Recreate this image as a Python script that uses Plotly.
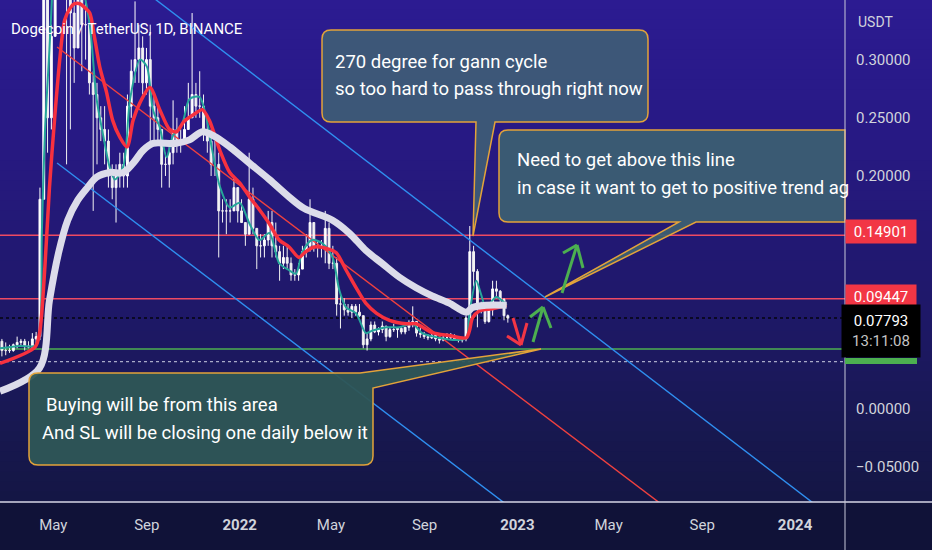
import pandas as pd
import plotly.graph_objects as go

# ---------------- chart data ----------------
# 5-day candles, first one centred on 2021-02-22 12:00
bar_start = '2021-02-22 12:00'
first_open = 0.058
bar_high = [
    0.060, 0.057, 0.055, 0.056, 0.062, 0.060, 0.060, 0.058, 0.065, 0.066,
    0.190, 0.450, 0.370, 0.330, 0.700, 0.740, 0.550, 0.570, 0.400, 0.360,
    0.440, 0.400, 0.350, 0.340, 0.290, 0.280, 0.260, 0.260, 0.240, 0.210,
    0.210, 0.220, 0.220, 0.270, 0.300, 0.350, 0.330, 0.320, 0.310, 0.330,
    0.270, 0.260, 0.240, 0.220, 0.230, 0.265, 0.250, 0.240, 0.260, 0.280,
    0.340, 0.280, 0.290, 0.270, 0.250, 0.240, 0.230, 0.220, 0.180, 0.180,
    0.180, 0.200, 0.190, 0.180, 0.160, 0.220, 0.190, 0.155, 0.150, 0.150,
    0.170, 0.170, 0.160, 0.140, 0.140, 0.140, 0.130, 0.120, 0.125, 0.140,
    0.150, 0.180, 0.160, 0.145, 0.145, 0.170, 0.160, 0.140, 0.130, 0.100,
    0.095, 0.090, 0.090, 0.090, 0.090, 0.080, 0.065, 0.075, 0.075, 0.070,
    0.075, 0.071, 0.070, 0.073, 0.070, 0.071, 0.070, 0.076, 0.088, 0.075,
    0.070, 0.066, 0.064, 0.066, 0.065, 0.061, 0.063, 0.065, 0.065, 0.064,
    0.061, 0.061, 0.080, 0.157, 0.140, 0.120, 0.092, 0.089, 0.088, 0.110,
    0.110, 0.102, 0.095, 0.081,
]
bar_low = [
    0.045, 0.046, 0.048, 0.049, 0.052, 0.054, 0.050, 0.052, 0.052, 0.056,
    0.059, 0.200, 0.220, 0.240, 0.360, 0.410, 0.400, 0.210, 0.240, 0.280,
    0.310, 0.290, 0.300, 0.270, 0.170, 0.210, 0.230, 0.210, 0.190, 0.180,
    0.160, 0.190, 0.190, 0.190, 0.250, 0.280, 0.280, 0.270, 0.270, 0.230,
    0.230, 0.230, 0.190, 0.200, 0.190, 0.210, 0.220, 0.220, 0.230, 0.240,
    0.250, 0.250, 0.250, 0.230, 0.220, 0.200, 0.200, 0.130, 0.160, 0.150,
    0.160, 0.170, 0.160, 0.160, 0.140, 0.150, 0.150, 0.120, 0.130, 0.130,
    0.140, 0.130, 0.130, 0.110, 0.120, 0.120, 0.110, 0.110, 0.110, 0.120,
    0.130, 0.135, 0.135, 0.130, 0.130, 0.125, 0.120, 0.120, 0.080, 0.069,
    0.080, 0.080, 0.078, 0.080, 0.079, 0.052, 0.050, 0.058, 0.065, 0.063,
    0.065, 0.058, 0.061, 0.066, 0.061, 0.064, 0.064, 0.067, 0.070, 0.062,
    0.061, 0.060, 0.059, 0.060, 0.058, 0.056, 0.058, 0.060, 0.060, 0.059,
    0.057, 0.057, 0.058, 0.076, 0.105, 0.070, 0.082, 0.073, 0.074, 0.080,
    0.095, 0.090, 0.076, 0.074,
]
bar_close = [
    0.050, 0.050, 0.050, 0.055, 0.057, 0.058, 0.054, 0.053, 0.060, 0.062,
    0.180, 0.360, 0.250, 0.320, 0.570, 0.450, 0.480, 0.390, 0.340, 0.310,
    0.380, 0.330, 0.330, 0.280, 0.270, 0.250, 0.240, 0.230, 0.200, 0.190,
    0.200, 0.210, 0.200, 0.260, 0.290, 0.300, 0.310, 0.280, 0.300, 0.260,
    0.250, 0.240, 0.210, 0.210, 0.220, 0.240, 0.230, 0.230, 0.240, 0.250,
    0.270, 0.260, 0.260, 0.240, 0.230, 0.210, 0.210, 0.170, 0.170, 0.170,
    0.170, 0.190, 0.170, 0.160, 0.150, 0.180, 0.155, 0.140, 0.140, 0.145,
    0.160, 0.140, 0.135, 0.125, 0.130, 0.125, 0.115, 0.115, 0.120, 0.135,
    0.140, 0.160, 0.140, 0.140, 0.140, 0.155, 0.125, 0.125, 0.090, 0.090,
    0.085, 0.083, 0.088, 0.083, 0.080, 0.055, 0.060, 0.072, 0.066, 0.068,
    0.071, 0.062, 0.068, 0.068, 0.069, 0.066, 0.070, 0.074, 0.075, 0.065,
    0.064, 0.062, 0.061, 0.063, 0.060, 0.059, 0.061, 0.061, 0.062, 0.060,
    0.059, 0.060, 0.078, 0.135, 0.118, 0.088, 0.087, 0.075, 0.085, 0.103,
    0.101, 0.094, 0.080, 0.0779,
]

# fast EMA (teal)
ema_fast_dates = [
    '2021-02-20', '2021-03-18', '2021-04-07', '2021-04-13', '2021-04-16', '2021-04-20',
    '2021-04-26', '2021-05-03', '2021-05-12', '2021-05-25', '2021-06-07', '2021-06-18',
    '2021-06-27', '2021-07-05', '2021-07-14', '2021-07-21', '2021-08-01', '2021-08-10',
    '2021-08-23', '2021-09-01', '2021-09-09', '2021-09-18', '2021-09-27', '2021-10-05',
    '2021-10-18', '2021-10-27', '2021-11-09', '2021-11-18', '2021-11-26', '2021-12-06',
    '2021-12-19', '2022-01-01', '2022-01-14', '2022-01-27', '2022-02-09', '2022-02-22',
    '2022-03-07', '2022-03-16', '2022-03-24', '2022-04-06', '2022-04-20', '2022-05-03',
    '2022-05-12', '2022-05-21', '2022-06-03', '2022-06-16', '2022-06-24', '2022-07-13',
    '2022-07-30', '2022-08-16', '2022-08-29', '2022-09-20', '2022-10-13', '2022-10-26',
    '2022-10-30', '2022-11-08', '2022-11-14', '2022-11-21', '2022-12-04', '2022-12-12',
    '2022-12-18',
]
ema_fast = [
    0.052, 0.054, 0.054, 0.063, 0.151, 0.237,
    0.309, 0.400, 0.500, 0.420, 0.370, 0.330,
    0.266, 0.237, 0.208, 0.197, 0.208, 0.266,
    0.300, 0.294, 0.257, 0.242, 0.216, 0.234,
    0.246, 0.266, 0.268, 0.251, 0.222, 0.191,
    0.173, 0.177, 0.159, 0.145, 0.151, 0.125,
    0.119, 0.116, 0.134, 0.145, 0.142, 0.130,
    0.102, 0.087, 0.082, 0.065, 0.067, 0.070,
    0.070, 0.073, 0.065, 0.061, 0.059, 0.061,
    0.082, 0.110, 0.099, 0.087, 0.096, 0.093,
    0.089,
]

# mid EMA (red)
ema_mid_dates = [
    '2021-02-20', '2021-04-07', '2021-04-13', '2021-04-20', '2021-04-26', '2021-05-03',
    '2021-05-10', '2021-05-16', '2021-05-23', '2021-05-29', '2021-06-05', '2021-06-11',
    '2021-06-18', '2021-06-24', '2021-07-01', '2021-07-10', '2021-07-18', '2021-07-27',
    '2021-08-06', '2021-08-14', '2021-08-23', '2021-09-05', '2021-09-18', '2021-10-01',
    '2021-10-10', '2021-10-20', '2021-11-02', '2021-11-13', '2021-11-22', '2021-12-06',
    '2021-12-19', '2022-01-01', '2022-01-14', '2022-01-27', '2022-02-09', '2022-02-22',
    '2022-03-07', '2022-03-20', '2022-03-27', '2022-04-09', '2022-04-29', '2022-05-08',
    '2022-05-21', '2022-06-03', '2022-06-16', '2022-06-30', '2022-07-17', '2022-08-08',
    '2022-08-21', '2022-09-11', '2022-10-03', '2022-10-26', '2022-10-30', '2022-11-03',
    '2022-11-12', '2022-11-29', '2022-12-18',
]
ema_mid = [
    0.039, 0.053, 0.065, 0.122, 0.190, 0.251,
    0.303, 0.334, 0.344, 0.348, 0.348, 0.345,
    0.340, 0.320, 0.294, 0.272, 0.248, 0.234,
    0.225, 0.248, 0.263, 0.276, 0.257, 0.240,
    0.238, 0.247, 0.253, 0.257, 0.248, 0.222,
    0.203, 0.194, 0.182, 0.171, 0.159, 0.145,
    0.139, 0.130, 0.134, 0.139, 0.137, 0.134,
    0.119, 0.104, 0.0905, 0.082, 0.076, 0.073,
    0.073, 0.0655, 0.063, 0.061, 0.067, 0.078,
    0.084, 0.086, 0.089,
]

# slow EMA (thick light grey)
ema_slow_dates = [
    '2021-02-20', '2021-04-13', '2021-04-26', '2021-05-08', '2021-05-20', '2021-06-02',
    '2021-06-15', '2021-06-27', '2021-07-14', '2021-08-01', '2021-08-14', '2021-08-27',
    '2021-09-09', '2021-10-08', '2021-10-27', '2021-11-13', '2021-11-29', '2021-12-19',
    '2022-01-14', '2022-02-09', '2022-03-07', '2022-03-27', '2022-05-03', '2022-05-25',
    '2022-06-16', '2022-07-07', '2022-07-30', '2022-08-21', '2022-09-11', '2022-10-03',
    '2022-10-26', '2022-11-03', '2022-11-21', '2022-12-18',
]
ema_slow = [
    0.015, 0.035, 0.093, 0.134, 0.162, 0.179,
    0.190, 0.199, 0.203, 0.203, 0.211, 0.222,
    0.228, 0.228, 0.231, 0.238, 0.234, 0.225,
    0.211, 0.197, 0.182, 0.172, 0.162, 0.151,
    0.136, 0.125, 0.113, 0.104, 0.097, 0.091,
    0.083, 0.087, 0.089, 0.089,
]

# horizontal levels
level_resist = 0.14901
level_mid = 0.09447
level_support = 0.0514
level_last = 0.07793
level_low = 0.0405

# drawn trend lines (two anchor points each)
blue_top_dates = ['2021-08-23', '2024-02-14']
blue_top_prices = [0.3619, -0.0911]
blue_low_dates = ['2021-05-06', '2023-01-03']
blue_low_prices = [0.2112, -0.0904]
red_diag_dates = ['2021-05-06', '2023-07-19']
red_diag_prices = [0.3108, -0.0868]

tick_dates = ['2021-05-01', '2021-09-01', '2022-01-01', '2022-05-01', '2022-09-01',
              '2023-01-01', '2023-05-01', '2023-09-01', '2024-01-01']
tick_text = ['May', 'Sep', '<b>2022</b>', 'May', 'Sep', '<b>2023</b>', 'May', 'Sep', '<b>2024</b>']
price_ticks = [0.30, 0.25, 0.20, 0.0, -0.05]
price_tick_text = ['0.30000', '0.25000', '0.20000', '0.00000', '\u22120.05000']

# ---------------- layout helpers ----------------
W, H = 932, 550
PLOT_R = 845   # px where the price scale starts
PLOT_B = 502   # px where the time scale starts
FONT = 'Roboto, sans-serif'
TXT = '#d1d4dc'


def px(x):
    return x / PLOT_R


def py(y):
    return 1 - y / PLOT_B


def pt(x, y):
    return f'{px(x):.5f},{py(y):.5f}'


def build_path(seq):
    out = []
    for item in seq:
        if item[0] == 'Z':
            out.append('Z')
        elif item[0] == 'Q':
            out.append(f'Q{pt(item[1], item[2])} {pt(item[3], item[4])}')
        else:
            out.append(f'{item[0]}{pt(item[1], item[2])}')
    return ' '.join(out)


def mix(c0, c1, t):
    return tuple(round(a + (b - a) * t) for a, b in zip(c0, c1))


bar_dates = pd.date_range(bar_start, periods=len(bar_close), freq='5D')
bar_open = [first_open] + bar_close[:-1]

fig = go.Figure()

# trend lines
for d, p, c in [(blue_top_dates, blue_top_prices, '#2f8ff0'),
                (blue_low_dates, blue_low_prices, '#2f8ff0'),
                (red_diag_dates, red_diag_prices, '#f0413f')]:
    fig.add_trace(go.Scatter(x=d, y=p, mode='lines', line=dict(color=c, width=1.4),
                             hoverinfo='skip', showlegend=False))

fig.add_trace(go.Candlestick(
    x=bar_dates, open=bar_open, high=bar_high, low=bar_low, close=bar_close,
    increasing=dict(line=dict(color='#ffffff', width=1), fillcolor='#ffffff'),
    decreasing=dict(line=dict(color='#f2f2f2', width=1), fillcolor='#f2f2f2'),
    whiskerwidth=0, hoverinfo='skip', showlegend=False))

fig.add_trace(go.Scatter(x=ema_fast_dates, y=ema_fast, mode='lines',
                         line=dict(color='#26a69a', width=2, shape='spline', smoothing=0.8),
                         hoverinfo='skip', showlegend=False))
fig.add_trace(go.Scatter(x=ema_mid_dates, y=ema_mid, mode='lines',
                         line=dict(color='#f7313f', width=3.5, shape='spline', smoothing=0.8),
                         hoverinfo='skip', showlegend=False))
fig.add_trace(go.Scatter(x=ema_slow_dates, y=ema_slow, mode='lines',
                         line=dict(color='#dcdcea', width=7, shape='spline', smoothing=0.9),
                         hoverinfo='skip', showlegend=False))

shapes = []

# background gradient (purple top -> navy bottom)
stops = [(0, (44, 27, 146)), (150, (39, 25, 130)), (300, (31, 24, 106)),
         (420, (24, 24, 82)), (502, (20, 22, 68))]
n_bands = 50
for i in range(n_bands):
    y0 = PLOT_B * i / n_bands
    y1 = PLOT_B * (i + 1) / n_bands
    ym = (y0 + y1) / 2
    for (a, ca), (b, cb) in zip(stops[:-1], stops[1:]):
        if a <= ym <= b:
            col = mix(ca, cb, (ym - a) / (b - a))
            break
    shapes.append(dict(type='rect', xref='paper', yref='paper', x0=0, x1=W / PLOT_R,
                       y0=py(y1) - 0.001, y1=py(y0) + 0.001, line=dict(width=0),
                       fillcolor='rgb(%d,%d,%d)' % col, layer='below'))

# horizontal levels
for lv, col, dash, wd in [(level_resist, '#ee4a62', 'solid', 1.5),
                          (level_mid, '#ee4a62', 'solid', 1.5),
                          (level_support, '#4caf50', 'solid', 1.5),
                          (level_last, '#05050f', 'dot', 1.5),
                          (level_low, '#a9aac8', 'dot', 1.2)]:
    shapes.append(dict(type='line', xref='paper', yref='y', x0=0, x1=1, y0=lv, y1=lv,
                       line=dict(color=col, width=wd, dash=dash), layer='below'))

# call-out boxes
border = dict(color='#e3a33a', width=1.5)
box1 = [('M', 331, 30), ('L', 639, 30), ('Q', 648, 30, 648, 39), ('L', 648, 113),
        ('Q', 648, 122, 639, 122), ('L', 495, 122), ('L', 473, 236), ('L', 476, 122),
        ('L', 331, 122), ('Q', 322, 122, 322, 113), ('L', 322, 39), ('Q', 322, 30, 331, 30), ('Z',)]
box2 = [('M', 508, 130), ('L', 845, 130), ('L', 845, 222), ('L', 696, 222), ('L', 545, 297),
        ('L', 679, 222), ('L', 508, 222), ('Q', 499, 222, 499, 213), ('L', 499, 139),
        ('Q', 499, 130, 508, 130), ('Z',)]
box3 = [('M', 38, 373), ('L', 360, 373), ('L', 541, 349), ('L', 373, 388), ('L', 373, 456),
        ('Q', 373, 465, 364, 465), ('L', 38, 465), ('Q', 29, 465, 29, 456), ('L', 29, 382),
        ('Q', 29, 373, 38, 373), ('Z',)]
for seq, fill in [(box1, 'rgba(62,92,118,0.93)'), (box2, 'rgba(60,96,114,0.93)'),
                  (box3, 'rgba(46,86,86,0.95)')]:
    shapes.append(dict(type='path', xref='paper', yref='paper', path=build_path(seq),
                       fillcolor=fill, line=border, layer='above'))

# hand-drawn arrows
arrows = [
    ('#f23645', [(513, 318, 521, 345), (507, 336, 521, 345), (527, 323, 521, 345)]),
    ('#4caf50', [(533, 342, 543, 307), (530, 317, 543, 307), (551, 328, 543, 307)]),
    ('#4caf50', [(562, 293, 577, 245), (563, 253, 577, 245), (583, 268, 577, 245)]),
]
for col, segs in arrows:
    for x0, y0, x1, y1 in segs:
        shapes.append(dict(type='line', xref='paper', yref='paper', x0=px(x0), y0=py(y0),
                           x1=px(x1), y1=py(y1), line=dict(color=col, width=3), layer='above'))

# time-scale strip, separators and last-price bar
shapes.append(dict(type='rect', xref='paper', yref='paper', x0=0, x1=W / PLOT_R,
                   y0=py(H), y1=0, line=dict(width=0), fillcolor='#101238', layer='below'))
shapes.append(dict(type='line', xref='paper', yref='paper', x0=0, x1=W / PLOT_R, y0=0, y1=0,
                   line=dict(color='#d6d6e6', width=1.5), layer='above'))
shapes.append(dict(type='line', xref='paper', yref='paper', x0=1, x1=1, y0=py(H), y1=1,
                   line=dict(color='#c8c8da', width=1), layer='above'))
shapes.append(dict(type='rect', xref='paper', yref='paper', x0=px(845), x1=px(917),
                   y0=py(364), y1=py(358), line=dict(width=0), fillcolor='#4caf50', layer='above'))

annotations = []


def note(x, y, text, size, color='#ffffff', anchor='left', **kw):
    annotations.append(dict(xref='paper', yref='paper', x=px(x), y=py(y), text=text,
                            showarrow=False, xanchor=anchor, yanchor='middle',
                            font=dict(family=FONT, size=size, color=color), **kw))


note(9, 29, 'Dogecoin / TetherUS, 1D, BINANCE', 15)
note(333, 62, '270 degree for gann cycle', 18.5)
note(333, 89, 'so too hard to pass through right now', 18.5)
note(515, 160, 'Need to get above this line', 18.5)
note(515, 188, 'in case it want to get to positive trend ag', 18.5)
note(44, 405, 'Buying will be from this area', 18.5)
note(40, 433, 'And SL will be closing one daily below it', 18.5)
note(856, 22, 'USDT', 14, TXT)

note(845, 231, '%.5f' % level_resist, 15, '#ffffff', bgcolor='#f23645', width=70, height=23,
     align='center', borderpad=0)
note(845, 296, '%.5f' % level_mid, 15, '#ffffff', bgcolor='#f23645', width=70, height=23,
     align='center', borderpad=0)
note(841, 331, '%.5f<br><span style="color:#c4c4c4">13:11:08</span>' % level_last, 15,
     '#ffffff', bgcolor='#000000', width=78, height=52, align='center', borderpad=0)

fig.update_layout(
    width=W, height=H,
    margin=dict(l=0, r=W - PLOT_R, t=0, b=H - PLOT_B),
    paper_bgcolor='#101238', plot_bgcolor='rgba(0,0,0,0)',
    showlegend=False, hovermode=False,
    shapes=shapes, annotations=annotations,
    xaxis=dict(type='date', range=['2021-02-20', '2024-03-06 16:00'],
               tickvals=tick_dates, ticktext=tick_text, showgrid=False, zeroline=False,
               showline=False, ticks='', ticklabelstandoff=12,
               tickfont=dict(family=FONT, size=15, color=TXT),
               rangeslider=dict(visible=False), fixedrange=True),
    yaxis=dict(side='right', range=[-0.0801, 0.3512], tickvals=price_ticks,
               ticktext=price_tick_text, showgrid=False, zeroline=False, showline=False,
               ticks='', ticklabelstandoff=10,
               tickfont=dict(family=FONT, size=15, color=TXT), fixedrange=True),
)

fig.write_html('out.html', config={'displayModeBar': False},
               post_script="document.body.style.margin='0px';document.body.style.overflow='hidden';")
